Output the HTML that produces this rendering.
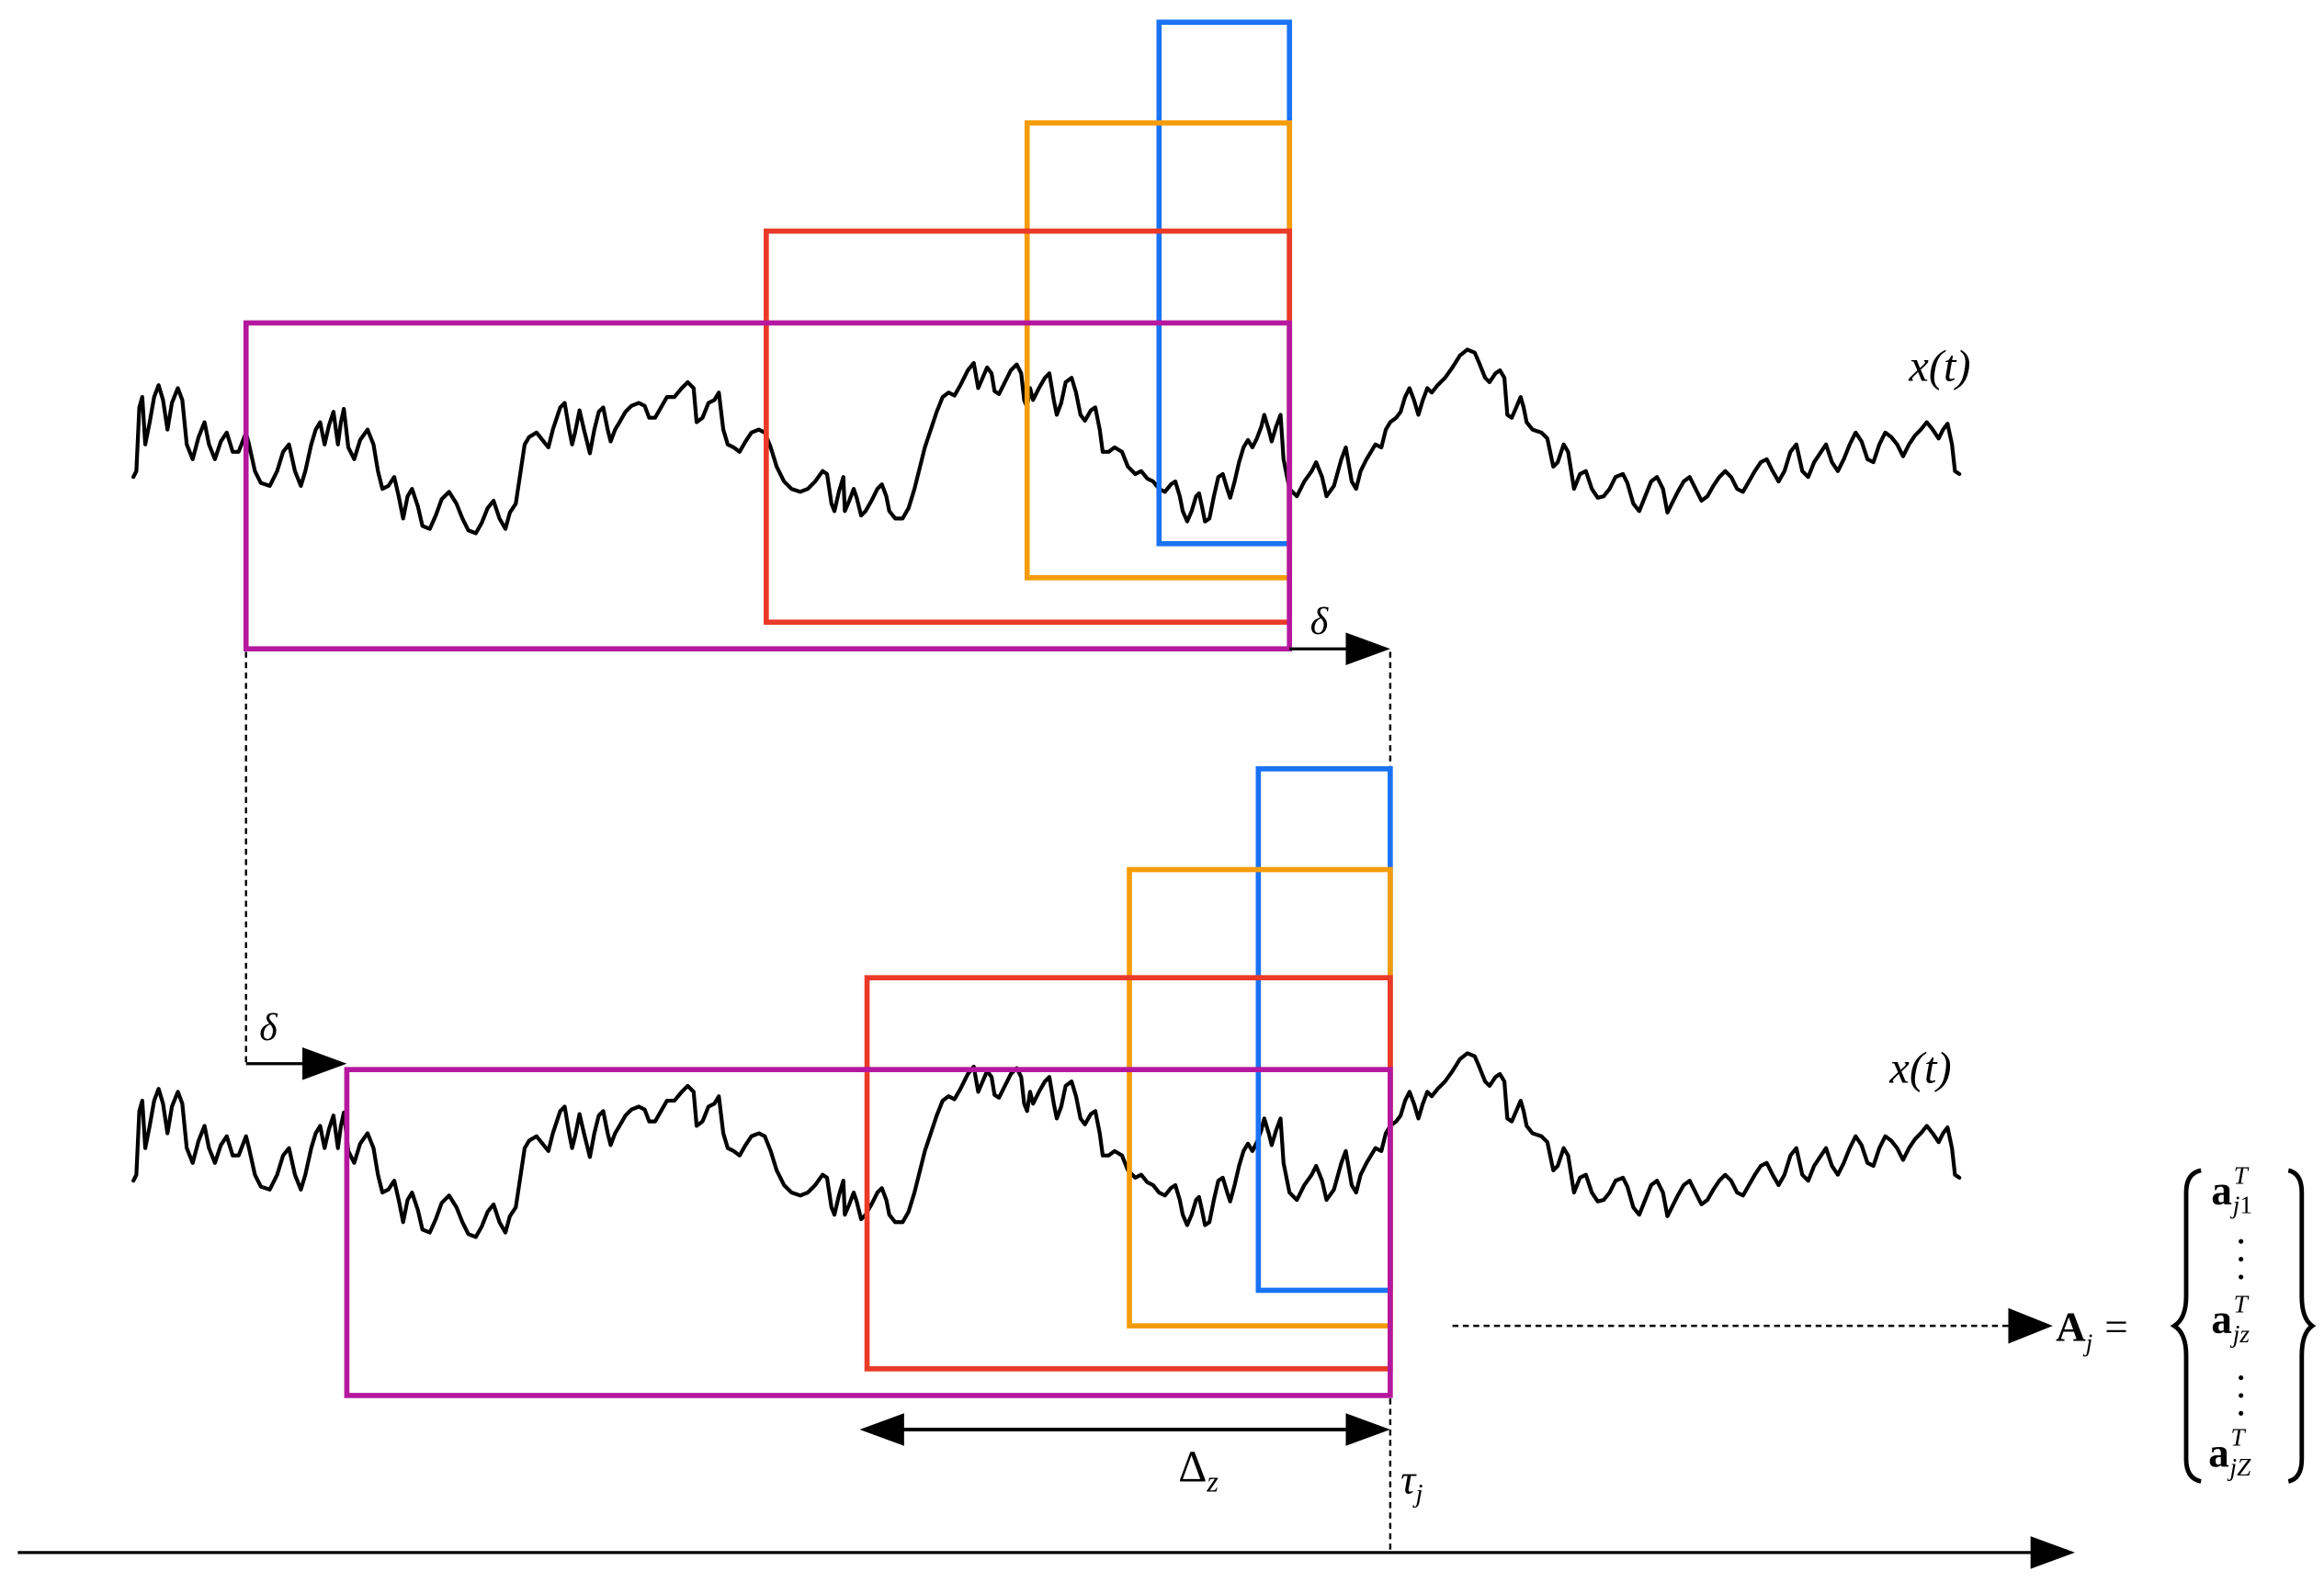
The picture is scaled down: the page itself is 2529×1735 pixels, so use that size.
<!DOCTYPE html>
<html><head><meta charset="utf-8"><style>
html,body{margin:0;padding:0;background:#fff;}
svg{display:block;}
text{font-family:"Liberation Serif",serif;}
</style></head><body>
<svg width="2529" height="1735" viewBox="0 0 1568 1076" preserveAspectRatio="none" xmlns="http://www.w3.org/2000/svg">
<defs>
<g id="w">
<polyline fill="none" stroke="#000" stroke-width="2.6" stroke-linejoin="round" stroke-linecap="round" points="90,322 92,318 94,275 96,268 98,300 101,285 104,268 107,260 110,270 113,290 116,272 120,262 123,270 126,300 130,310 134,295 138,285 141,300 145,310 149,298 153,292 157,305 161,305 166,292 168,300 172,318 176,326 182,328 187,318 191,305 195,300 199,318 203,328 206,318 210,300 213,290 216,285 219,300 222,287 225,278 228,300 230,285 232,276 235,302 239,310 243,297 248,290 252,300 255,318 258,330 262,328 266,322 269,335 272,350 275,335 278,330 282,342 285,355 290,357 294,348 298,337 303,332 308,340 312,350 316,358 321,360 325,353 329,343 333,338 337,350 341,357 344,346 348,340 351,320 354,300 357,295 362,292 366,297 370,302 373,290 378,275 381,272 384,290 386,300 388,292 391,277 394,290 398,306 401,290 404,278 407,275 410,290 412,298 415,290 418,285 422,278 426,274 431,272 435,274 438,282 442,282 446,275 450,268 455,268 460,262 464,258 468,262 470,285 474,282 478,272 482,270 485,265 488,290 491,300 495,302 499,305 503,298 507,292 512,290 516,292 520,302 524,315 529,325 534,330 540,332 545,330 550,325 555,318 558,320 561,340 563,345 566,332 569,322 570,345 573,338 576,330 578,336 581,348 584,345 588,338 592,330 595,327 598,335 600,345 604,350 609,350 613,343 617,330 620,318 624,302 628,290 632,278 636,268 640,265 644,267 648,260 653,250 657,245 660,262 663,255 666,248 669,252 671,264 674,266 678,258 682,250 686,246 689,252 691,270 693,275 695,262 697,270 701,262 705,255 708,252 711,270 713,280 716,272 719,258 723,255 726,265 729,280 732,284 736,277 739,275 742,290 744,305 748,305 752,302 757,305 761,315 766,320 770,318 774,323 778,325 782,330 786,332 790,327 793,325 796,335 798,345 801,352 804,345 807,335 809,333 811,342 813,352 816,350 819,335 822,322 825,320 828,330 830,336 833,325 836,312 839,302 842,297 845,302 848,296 851,288 853,280 856,290 858,298 861,288 864,280 866,310 870,330 875,335 880,325 885,318 888,312 892,322 895,335 900,328 905,310 908,302 912,325 915,330 918,318 922,310 925,305 928,300 932,302 935,290 938,285 942,282 945,278 948,268 951,262 954,270 957,280 960,270 963,262 966,265 970,260 975,255 980,248 985,240 990,236 995,238 998,245 1002,255 1005,258 1009,252 1012,250 1015,255 1017,280 1020,282 1023,275 1026,268 1028,275 1030,285 1034,290 1040,292 1044,296 1048,315 1051,312 1055,300 1058,305 1062,330 1066,320 1070,318 1074,330 1078,336 1082,335 1086,330 1090,322 1095,320 1098,326 1102,340 1106,345 1110,335 1114,325 1118,322 1122,330 1125,346 1128,340 1132,332 1136,325 1140,322 1144,330 1148,338 1152,335 1156,328 1160,322 1164,318 1168,322 1172,330 1176,332 1180,325 1184,318 1188,312 1192,310 1196,318 1200,325 1204,318 1208,305 1212,300 1216,318 1220,322 1224,312 1228,306 1232,300 1236,312 1240,318 1244,310 1248,300 1252,292 1256,298 1260,310 1264,312 1268,300 1272,292 1276,295 1280,300 1284,308 1288,300 1292,294 1296,290 1300,285 1304,290 1308,296 1311,290 1314,286 1317,300 1319,318 1322,320"/>
</g>
</defs>

<use href="#w"/>
<g fill="none" stroke-width="3.5">
<rect x="782" y="15" width="88" height="352" stroke="#1a73f5"/>
<rect x="693" y="83" width="177" height="307" stroke="#f59c0b"/>
<rect x="517" y="156" width="353" height="264" stroke="#ea3a28"/>
<rect x="166" y="218" width="704" height="220" stroke="#b5189e"/>
</g>
<line x1="870" y1="438" x2="910" y2="438" stroke="#000" stroke-width="2"/>
<path d="M908,427 L938,438 L908,449 z" fill="#000"/>
<text x="884" y="428" font-size="26" font-style="italic">δ</text>
<text x="1288" y="257" font-size="30" font-style="italic">x(t)</text>

<line x1="938" y1="440" x2="938" y2="1048" stroke="#000" stroke-width="1.5" stroke-dasharray="4,3"/>
<line x1="166" y1="440" x2="166" y2="718" stroke="#000" stroke-width="1.5" stroke-dasharray="4,3"/>
<line x1="166" y1="718" x2="206" y2="718" stroke="#000" stroke-width="2"/>
<path d="M204,707 L234,718 L204,729 z" fill="#000"/>
<text x="175" y="702" font-size="26" font-style="italic">δ</text>

<use href="#w" transform="translate(0,475)"/>
<g fill="none" stroke-width="3.5">
<rect x="849" y="519" width="89" height="352" stroke="#1a73f5"/>
<rect x="762" y="587" width="176" height="308" stroke="#f59c0b"/>
<rect x="585" y="660" width="353" height="264" stroke="#ea3a28"/>
<rect x="234" y="722" width="704" height="220" stroke="#b5189e"/>
</g>
<text x="1275" y="731" font-size="30" font-style="italic">x(t)</text>

<line x1="605" y1="965" x2="912" y2="965" stroke="#000" stroke-width="2.5"/>
<path d="M580,965 L610,954 L610,976 z" fill="#000"/>
<path d="M938,965 L908,954 L908,976 z" fill="#000"/>
<text x="795" y="1000" font-size="30">Δ<tspan font-size="20" font-style="italic" dy="7">z</tspan></text>
<text x="945" y="1008" font-size="28" font-style="italic">τ<tspan font-size="18" dy="6">j</tspan></text>

<line x1="12" y1="1048" x2="1375" y2="1048" stroke="#000" stroke-width="2"/>
<path d="M1370,1037 L1400,1048 L1370,1059 z" fill="#000"/>

<line x1="980" y1="895" x2="1360" y2="895" stroke="#000" stroke-width="1.5" stroke-dasharray="4,3"/>
<path d="M1355,883 L1385,895 L1355,907 z" fill="#000"/>
<text x="1387" y="905" font-size="28" font-weight="bold">A<tspan font-size="17" font-weight="normal" font-style="italic" dy="7">j</tspan><tspan dy="-7" font-weight="normal" dx="8">=</tspan></text>
<path d="M1485,790 Q1475,792 1475,805 L1475,875 Q1475,890 1467,895 Q1475,900 1475,915 L1475,985 Q1475,998 1485,1000" fill="none" stroke="#000" stroke-width="3"/>
<path d="M1544,790 Q1553,792 1553,805 L1553,875 Q1553,890 1560,895 Q1553,900 1553,915 L1553,985 Q1553,998 1544,1000" fill="none" stroke="#000" stroke-width="3"/>
<g font-size="28" font-weight="bold">
<text x="1492" y="813">a<tspan font-size="17" font-weight="normal" font-style="italic" dx="1" dy="-14">T</tspan><tspan font-size="17" font-weight="normal" dx="-10" dy="20"><tspan font-style="italic">j</tspan>1</tspan></text>
<text x="1492" y="900">a<tspan font-size="17" font-weight="normal" font-style="italic" dx="1" dy="-14">T</tspan><tspan font-size="17" font-weight="normal" font-style="italic" dx="-10" dy="20">jz</tspan></text>
<text x="1490" y="990">a<tspan font-size="17" font-weight="normal" font-style="italic" dx="1" dy="-14">T</tspan><tspan font-size="17" font-weight="normal" font-style="italic" dx="-10" dy="20">jZ</tspan></text>
</g>
<g fill="#000">
<circle cx="1512" cy="838" r="1.6"/><circle cx="1512" cy="850" r="1.6"/><circle cx="1512" cy="862" r="1.6"/>
<circle cx="1512" cy="930" r="1.6"/><circle cx="1512" cy="942" r="1.6"/><circle cx="1512" cy="954" r="1.6"/>
</g>
</svg>
</body></html>
